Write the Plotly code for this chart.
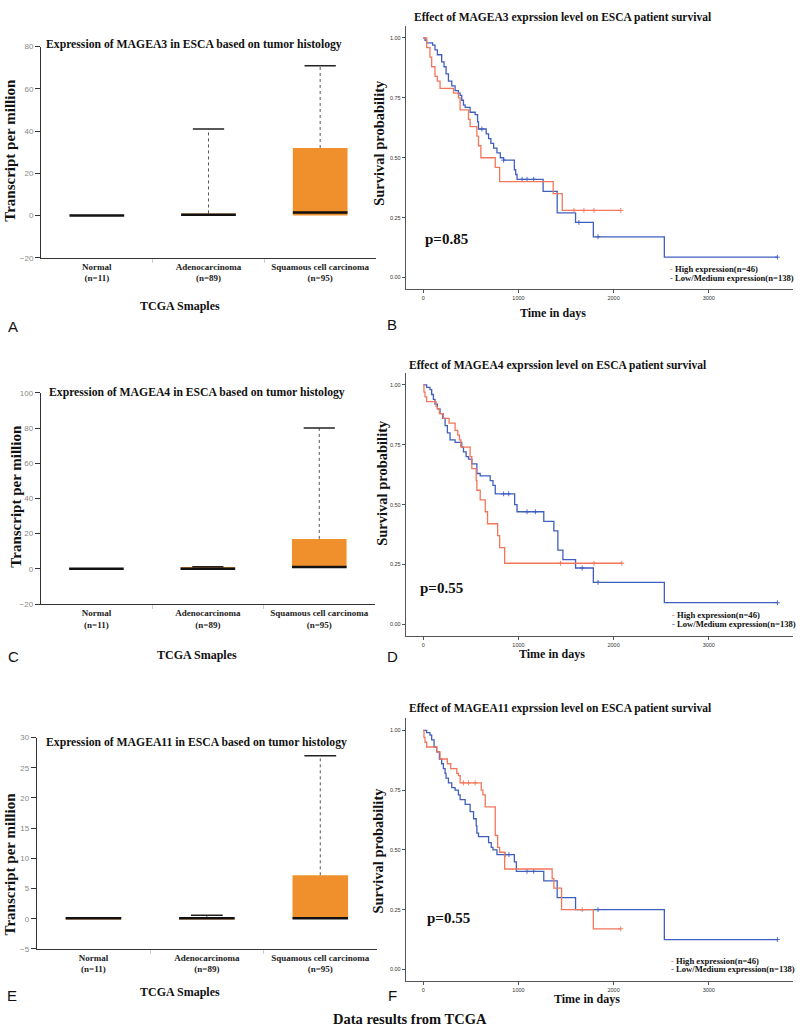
import numpy as np
import plotly.graph_objects as go

# ---------------- data ----------------
categories = ["Normal", "Adenocarcinoma", "Squamous cell carcinoma"]
n_samples = [11, 89, 95]
genes = ["MAGEA3", "MAGEA4", "MAGEA11"]

magea3_q1 = [0.0, 0.0, 0.0]
magea3_median = [0.0, 0.4, 1.5]
magea3_q3 = [0.0, 1.0, 32.0]
magea3_upper = [0.0, 41.0, 71.0]

magea4_q1 = [0.0, 0.0, 0.5]
magea4_median = [0.0, 0.1, 1.0]
magea4_q3 = [0.0, 0.6, 17.0]
magea4_upper = [0.0, 1.2, 80.0]

magea11_q1 = [0.0, 0.0, 0.05]
magea11_median = [0.1, 0.1, 0.1]
magea11_q3 = [0.1, 0.2, 7.2]
magea11_upper = [0.1, 0.6, 27.0]

y_ranges_box = [[-20, 80], [-20, 100], [-5, 30]]
y_dticks_box = [20, 20, 5]

group_labels = ["High expression(n=46)", "Low/Medium expression(n=138)"]
p_values = ["p=0.85", "p=0.55", "p=0.55"]
surv_xticks = [0, 1000, 2000, 3000]
surv_yticks = [0.0, 0.25, 0.5, 0.75, 1.0]

b_high_time = [0, 35, 70, 88, 123, 148, 176, 317, 369, 387, 475, 492, 563, 580, 605, 756, 802, 1365, 1460, 2075]
b_high_surv = [1.0, 0.96, 0.92, 0.88, 0.84, 0.82, 0.79, 0.77, 0.75, 0.70, 0.66, 0.63, 0.59, 0.55, 0.50, 0.46, 0.40, 0.35, 0.28, 0.28]
b_low_time = [0, 18, 35, 98, 123, 148, 193, 218, 239, 264, 299, 334, 369, 387, 404, 422, 440, 492, 545, 570,
              580, 661, 686, 710, 739, 774, 809, 844, 957, 971, 985, 1259, 1407, 1600, 1787, 2533, 3721]
b_low_surv = [1.0, 0.99, 0.98, 0.97, 0.95, 0.93, 0.90, 0.88, 0.85, 0.82, 0.80, 0.78, 0.77, 0.76, 0.74, 0.72, 0.71, 0.69, 0.68, 0.65,
              0.62, 0.60, 0.58, 0.56, 0.54, 0.52, 0.50, 0.49, 0.45, 0.43, 0.41, 0.36, 0.27, 0.23, 0.17, 0.085, 0.085]
b_high_cens = [1583, 1688, 1794, 2075]
b_low_cens = [615, 844, 1038, 1090, 1160, 1635, 1836, 3721]

d_high_time = [0, 7, 18, 35, 134, 148, 169, 211, 271, 334, 362, 380, 394, 492, 510, 556, 563, 598, 651, 675, 781, 802, 855, 2086]
d_high_surv = [1.0, 0.97, 0.95, 0.93, 0.91, 0.90, 0.88, 0.86, 0.84, 0.81, 0.79, 0.77, 0.74, 0.70, 0.65, 0.60, 0.56, 0.52, 0.47, 0.42, 0.37, 0.32, 0.255, 0.255]
d_low_time = [0, 35, 70, 88, 106, 123, 148, 176, 204, 229, 253, 281, 334, 404, 422, 450, 475, 510, 563, 598,
              703, 732, 756, 960, 985, 1266, 1372, 1414, 1467, 1600, 1787, 2533, 3721]
d_low_surv = [1.0, 0.99, 0.98, 0.96, 0.94, 0.92, 0.90, 0.88, 0.86, 0.83, 0.80, 0.77, 0.76, 0.74, 0.72, 0.70, 0.69, 0.67, 0.63, 0.62,
              0.60, 0.58, 0.545, 0.50, 0.47, 0.43, 0.39, 0.31, 0.27, 0.235, 0.175, 0.09, 0.09]
d_high_cens = [1442, 1794, 2086]
d_low_cens = [844, 897, 1090, 1178, 1670, 1836, 3721]

f_high_time = [0, 7, 18, 35, 141, 176, 253, 288, 352, 369, 387, 609, 626, 651, 756, 781, 802, 855, 1354, 1372, 1453, 1787, 2075]
f_high_surv = [1.0, 0.97, 0.95, 0.93, 0.91, 0.88, 0.86, 0.84, 0.82, 0.81, 0.78, 0.75, 0.73, 0.68, 0.56, 0.51, 0.49, 0.42, 0.38, 0.34, 0.25, 0.17, 0.17]
f_low_time = [0, 35, 70, 88, 113, 141, 169, 193, 211, 229, 239, 264, 299, 334, 369, 387, 440, 492, 528, 556,
              563, 580, 686, 714, 732, 774, 957, 978, 1266, 1407, 1600, 2533, 3721]
f_low_surv = [1.0, 0.99, 0.98, 0.96, 0.93, 0.91, 0.88, 0.86, 0.84, 0.82, 0.80, 0.78, 0.76, 0.75, 0.73, 0.71, 0.69, 0.66, 0.63, 0.60,
              0.57, 0.555, 0.53, 0.51, 0.50, 0.48, 0.45, 0.41, 0.37, 0.30, 0.25, 0.125, 0.125]
f_high_cens = [422, 475, 545, 1670, 2075]
f_low_cens = [860, 900, 1090, 1160, 1836, 3721]

# ---------------- styling ----------------
W, H = 800, 1032
SERIF = "Liberation Serif"
SANS = "Liberation Sans"
ORANGE = "#F0902C"
RED = "#F4765A"
BLUE = "#3F5FBE"


def px(x):
    return x / W


def py(y):
    return 1 - y / H


fig = go.Figure()
annotations = []


def ann(text, x, y, size, xanchor="center", angle=0, family=SERIF, color="#111"):
    annotations.append(dict(text=text, x=px(x), y=py(y), xref="paper", yref="paper",
                            showarrow=False, xanchor=xanchor, yanchor="middle", borderpad=0,
                            textangle=angle, font=dict(family=family, size=size, color=color)))


box_sets = [
    (magea3_q1, magea3_median, magea3_q3, magea3_upper),
    (magea4_q1, magea4_median, magea4_q3, magea4_upper),
    (magea11_q1, magea11_median, magea11_q3, magea11_upper),
]
box_axes = [("x", "y", 1), ("x3", "y3", 3), ("x5", "y5", 5)]
box_xdom = [[41, 376], [40.7, 375], [36.7, 377]]
box_ydom = [[256, 43], [605.3, 392.3], [953.3, 740]]
box_title_pos = [(45, 41), (48, 392), (45, 745)]
box_ytitle_pos = [(10, 148), (16, 497), (10, 868)]
box_xtitle_pos = [(180, 305), (197, 657), (180, 997)]
box_letter_pos = [(13, 325), (13, 658), (12, 1000)]
letters_box = ["A", "C", "E"]

BOXW = 0.49
CAPW = 0.28
layout_axes = {}
for k, (q1, med, q3, up) in enumerate(box_sets):
    xa, ya, num = box_axes[k]
    xs = list(range(len(categories)))
    fig.add_trace(go.Bar(x=xs, y=[b - a for a, b in zip(q1, q3)], base=q1, width=BOXW,
                         marker=dict(color=ORANGE, line=dict(width=0)), xaxis=xa, yaxis=ya,
                         hoverinfo="skip"))
    wx, wy, cx, cy, mx, my = [], [], [], [], [], []
    for i in xs:
        if up[i] > q3[i]:
            wx += [i, i, None]
            wy += [q3[i], up[i], None]
            cx += [i - CAPW / 2, i + CAPW / 2, None]
            cy += [up[i], up[i], None]
        mx += [i - BOXW / 2, i + BOXW / 2, None]
        my += [med[i], med[i], None]
    fig.add_trace(go.Scatter(x=wx, y=wy, mode="lines", line=dict(color="#555", width=1, dash="dot"),
                             xaxis=xa, yaxis=ya, hoverinfo="skip"))
    fig.add_trace(go.Scatter(x=cx, y=cy, mode="lines", line=dict(color="#222", width=1.5),
                             xaxis=xa, yaxis=ya, hoverinfo="skip"))
    fig.add_trace(go.Scatter(x=mx, y=my, mode="lines", line=dict(color="#111", width=2.5),
                             xaxis=xa, yaxis=ya, hoverinfo="skip"))
    sfx = "" if num == 1 else str(num)
    layout_axes["xaxis" + sfx] = dict(
        domain=[px(box_xdom[k][0]), px(box_xdom[k][1])], range=[-0.5, 2.5], anchor="y" + sfx,
        showline=True, linecolor="#333", linewidth=1, showgrid=False, zeroline=False,
        tickmode="array", tickvals=xs,
        ticktext=["<b>%s</b><br><b>(n=%d)</b>" % (c, n) for c, n in zip(categories, n_samples)],
        ticks="", tickfont=dict(family=SERIF, size=9, color="#222"),
        minor=dict(tickmode="array", tickvals=[0.5, 1.5], ticks="outside", ticklen=4, tickcolor="#ccc"),
        fixedrange=True)
    layout_axes["yaxis" + sfx] = dict(
        domain=[py(box_ydom[k][0]), py(box_ydom[k][1])], range=y_ranges_box[k], anchor="x" + sfx,
        showline=True, linecolor="#333", linewidth=1, showgrid=False, zeroline=False,
        dtick=y_dticks_box[k], tick0=0, ticks="outside", ticklen=5, tickcolor="#333",
        tickfont=dict(family=SANS, size=8, color="#888"), fixedrange=True)
    ann("<b>Expression of %s in ESCA based on tumor histology</b>" % genes[k],
        box_title_pos[k][0], box_title_pos[k][1], 11.7, xanchor="left")
    ann("<b>Transcript per million</b>", box_ytitle_pos[k][0], box_ytitle_pos[k][1], 15, angle=-90)
    ann("<b>TCGA Smaples</b>", box_xtitle_pos[k][0], box_xtitle_pos[k][1], 12)
    ann(letters_box[k], box_letter_pos[k][0], box_letter_pos[k][1], 15, family=SANS)

# ---------------- survival panels ----------------
surv_sets = [
    (b_high_time, b_high_surv, b_high_cens, b_low_time, b_low_surv, b_low_cens),
    (d_high_time, d_high_surv, d_high_cens, d_low_time, d_low_surv, d_low_cens),
    (f_high_time, f_high_surv, f_high_cens, f_low_time, f_low_surv, f_low_cens),
]
surv_axes = [("x2", "y2", 2), ("x4", "y4", 4), ("x6", "y6", 6)]
surv_ydom = [[288, 22.2], [637.8, 372.2], [986, 720.6]]
surv_title_pos = [(413, 14), (408, 365), (408, 711)]
surv_ytitle_pos = [(379, 140), (382, 483), (378, 854)]
surv_xtitle_pos = [(553, 312), (552, 656), (587, 1004)]
surv_letter_pos = [(392, 323), (392, 658), (392, 1000)]
p_pos = [(424, 237), (419, 589), (426, 922)]
legend_pos = [(669, 267, 276), (671, 616, 625), (670, 965, 973)]
letters_surv = ["B", "D", "F"]


def step_at(times, surv, t):
    idx = np.searchsorted(np.asarray(times), np.asarray(t), side="right") - 1
    return list(np.asarray(surv)[idx])


for k, (ht, hs, hc, lt, ls, lc) in enumerate(surv_sets):
    xa, ya, num = surv_axes[k]
    for t, s, c, col in [(lt, ls, lc, BLUE), (ht, hs, hc, RED)]:
        fig.add_trace(go.Scatter(x=t, y=s, mode="lines", line=dict(color=col, width=1.3, shape="hv"),
                                 xaxis=xa, yaxis=ya, hoverinfo="skip"))
        fig.add_trace(go.Scatter(x=c, y=step_at(t, s, c), mode="markers",
                                 marker=dict(symbol="cross-thin", size=3.5, line=dict(color=col, width=0.9)),
                                 xaxis=xa, yaxis=ya, hoverinfo="skip"))
    sfx = str(num)
    layout_axes["xaxis" + sfx] = dict(
        domain=[px(405.7), px(793)], range=[-185, 3885], anchor="y" + sfx,
        showline=True, linecolor="#555", linewidth=1, showgrid=False, zeroline=False,
        tickmode="array", tickvals=surv_xticks, ticks="outside", ticklen=3, tickcolor="#555",
        tickfont=dict(family=SANS, size=5.5, color="#333"), fixedrange=True)
    layout_axes["yaxis" + sfx] = dict(
        domain=[py(surv_ydom[k][0]), py(surv_ydom[k][1])], range=[-0.05, 1.05], anchor="x" + sfx,
        showline=True, linecolor="#555", linewidth=1, showgrid=False, zeroline=False,
        tickmode="array", tickvals=surv_yticks, tickformat=".2f", ticks="outside", ticklen=3,
        tickcolor="#555", tickfont=dict(family=SANS, size=5.5, color="#333"), fixedrange=True)
    ann("<b>Effect of %s exprssion level on ESCA patient survival</b>" % genes[k],
        surv_title_pos[k][0], surv_title_pos[k][1], 11.5, xanchor="left")
    ann("<b>Survival probability</b>", surv_ytitle_pos[k][0], surv_ytitle_pos[k][1], 14.5, angle=-90)
    ann("<b>Time in days</b>", surv_xtitle_pos[k][0], surv_xtitle_pos[k][1], 12)
    ann(letters_surv[k], surv_letter_pos[k][0], surv_letter_pos[k][1], 15, family=SANS)
    ann("<b>%s</b>" % p_values[k], p_pos[k][0], p_pos[k][1], 15, xanchor="left")
    lx, ly1, ly2 = legend_pos[k]
    ann('<b><span style="color:%s">-</span> %s</b>' % (RED, group_labels[0]), lx, ly1, 8.6, xanchor="left")
    ann('<b><span style="color:%s">-</span> %s</b>' % (BLUE, group_labels[1]), lx, ly2, 8.6, xanchor="left")

ann("<b>Data results from TCGA</b>", 410, 1024, 14.5)

fig.update_layout(width=W, height=H, margin=dict(l=0, r=0, t=0, b=0),
                  paper_bgcolor="white", plot_bgcolor="white", showlegend=False,
                  annotations=annotations, **layout_axes)

fig.write_html("out.html", config={"displayModeBar": False},
               post_script="document.body.style.margin='0px';document.body.style.overflow='hidden';")
